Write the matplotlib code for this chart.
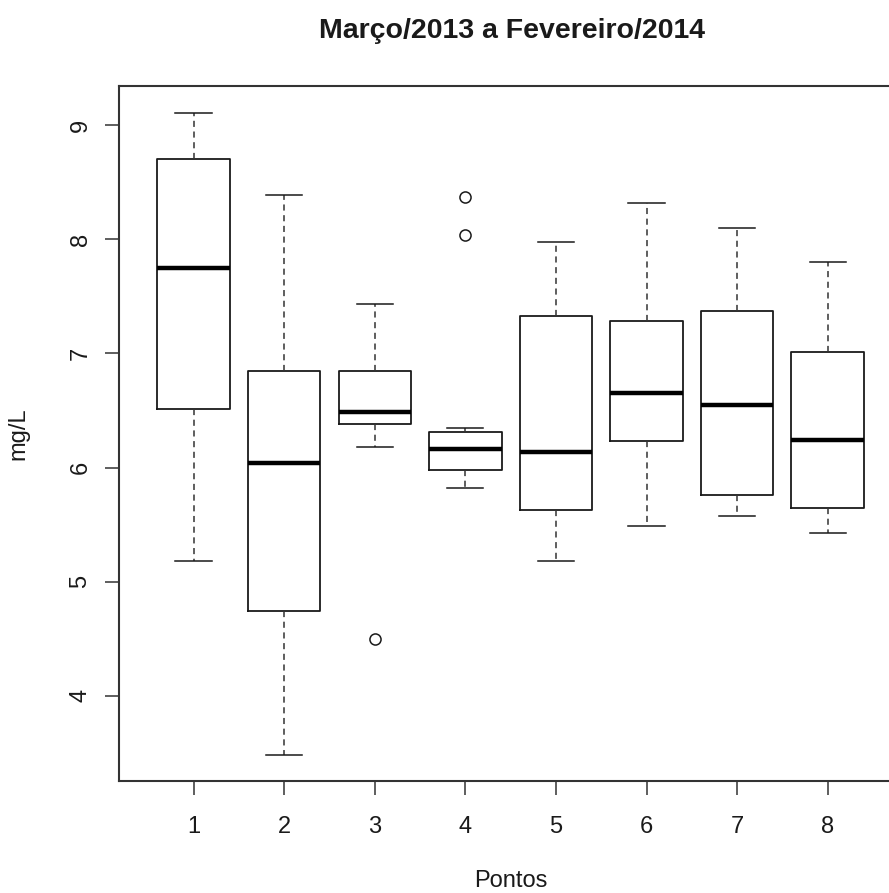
import matplotlib
matplotlib.use("Agg")
import matplotlib.pyplot as plt

# boxplot statistics (mg/L)
pontos = [1, 2, 3, 4, 5, 6, 7, 8]
whislo = [5.18, 3.48, 6.18, 5.82, 5.18, 5.49, 5.58, 5.43]
q1 = [6.51, 4.74, 6.38, 5.98, 5.63, 6.23, 5.76, 5.65]
med = [7.75, 6.04, 6.49, 6.16, 6.14, 6.65, 6.55, 6.24]
q3 = [8.70, 6.85, 6.85, 6.31, 7.33, 7.28, 7.37, 7.01]
whishi = [9.11, 8.39, 7.43, 6.35, 7.98, 8.32, 8.10, 7.80]
outliers = [[], [], [4.50], [8.37, 8.04], [], [], [], []]
yticks = [4, 5, 6, 7, 8, 9]

plt.rcParams['font.family'] = ['Liberation Sans', 'DejaVu Sans']

stats = []
for i in range(len(pontos)):
    stats.append({'whislo': whislo[i], 'q1': q1[i], 'med': med[i], 'q3': q3[i],
                  'whishi': whishi[i], 'fliers': outliers[i], 'label': str(pontos[i])})

fig = plt.figure(figsize=(8.89, 8.93), dpi=100)
# right edge of the frame falls outside the picture, as in the original
ax = fig.add_axes([119.3 / 889, 1 - 781 / 893, (902 - 119.3) / 889, (781 - 85.7) / 893])

ink = '#1a1a1a'
ax.bxp(stats, positions=pontos, widths=0.8, showfliers=True,
       boxprops=dict(color=ink, linewidth=1.3),
       medianprops=dict(color='black', linewidth=3.2, solid_capstyle='butt'),
       whiskerprops=dict(color='#333333', linewidth=1.1, linestyle=(0, (4, 3))),
       capprops=dict(color=ink, linewidth=1.1),
       capwidths=0.4,
       flierprops=dict(marker='o', markersize=8, markerfacecolor='none',
                       markeredgecolor=ink, markeredgewidth=1.1))

ax.set_xlim(0.18, 8.82)
ax.set_ylim(3.254, 9.346)
ax.set_xticks(pontos)
ax.set_xticklabels([str(p) for p in pontos])
ax.set_yticks(yticks)
ax.set_yticklabels([str(v) for v in yticks], rotation=90, va='center')

for s in ax.spines.values():
    s.set_color('#333333')
    s.set_linewidth(1.5)

ax.tick_params(axis='both', length=10, width=1.1, color='#333333', labelsize=17, labelcolor=ink)
ax.tick_params(axis='x', pad=15)
ax.tick_params(axis='y', pad=10)

ax.set_xlabel('Pontos', fontsize=17, color=ink, labelpad=23)
ax.set_ylabel('mg/L', fontsize=17, color=ink, labelpad=29)

fig.text(512 / 889, 1 - 31 / 893, 'Março/2013 a Fevereiro/2014', ha='center', va='center',
         fontsize=20.5, fontweight='bold', color=ink)

fig.savefig('out.png', dpi=100)
